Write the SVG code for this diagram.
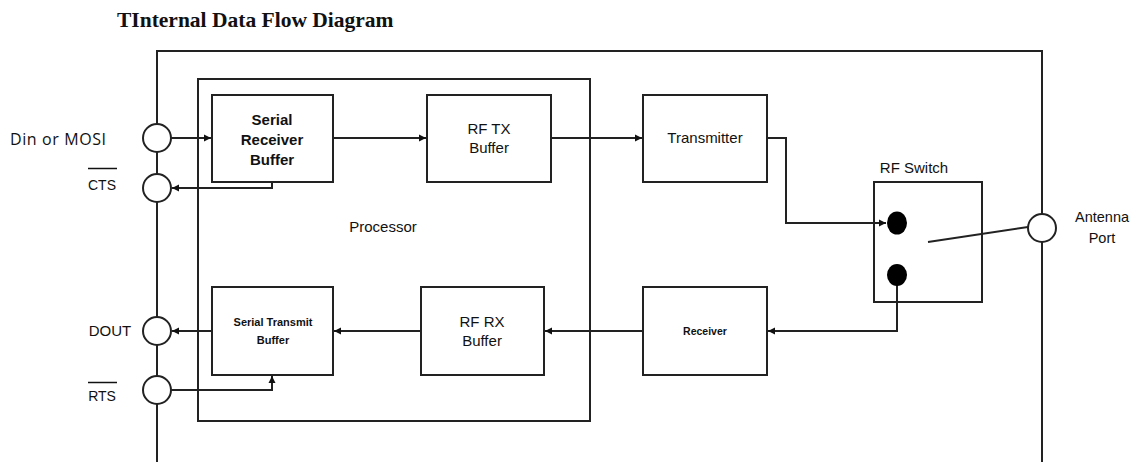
<svg xmlns="http://www.w3.org/2000/svg" width="1139" height="462" viewBox="0 0 1139 462">
<defs>
<style>
.box{fill:#fff;stroke:#222;stroke-width:2}
.ln{fill:none;stroke:#222;stroke-width:2}
.port{fill:#fff;stroke:#222;stroke-width:2}
.t{font-family:"Liberation Sans",Arial,sans-serif;fill:#111;text-anchor:middle}
.b{font-weight:bold}
</style>
<marker id="ah" markerWidth="8" markerHeight="8" refX="7" refY="4" orient="auto" markerUnits="userSpaceOnUse">
<path d="M0,0.5 L7,4 L0,7.5 Z" fill="#111"/>
</marker>
</defs>
<rect width="1139" height="462" fill="#fff"/>
<text x="117" y="27" font-family="Liberation Serif,serif" font-weight="bold" font-size="21.5" fill="#111">TInternal Data Flow Diagram</text>

<g id="frame">
<path class="ln" d="M157,462 V51 H1042 V462"/>
</g>
<g id="processor">
<rect x="198" y="79" width="392" height="342" fill="none" stroke="#222" stroke-width="2"/>
<text class="t" x="383" y="232" font-size="15">Processor</text>
</g>

<g id="serial-receiver-buffer">
<rect class="box" x="212" y="95" width="121" height="87"/>
<text class="t b" x="272" y="125" font-size="15">Serial</text>
<text class="t b" x="272" y="145" font-size="15">Receiver</text>
<text class="t b" x="272" y="165" font-size="15">Buffer</text>
</g>
<g id="rf-tx-buffer">
<rect class="box" x="427" y="95" width="124" height="87"/>
<text class="t" x="489" y="134" font-size="15">RF TX</text>
<text class="t" x="489" y="153" font-size="15">Buffer</text>
</g>
<g id="transmitter">
<rect class="box" x="643" y="95" width="124" height="87"/>
<text class="t" x="705" y="143" font-size="15">Transmitter</text>
</g>
<g id="serial-transmit-buffer">
<rect class="box" x="212" y="287" width="121" height="88"/>
<text class="t b" x="273" y="326" font-size="11">Serial Transmit</text>
<text class="t b" x="273" y="344" font-size="11">Buffer</text>
</g>
<g id="rf-rx-buffer">
<rect class="box" x="421" y="287" width="123" height="88"/>
<text class="t" x="482" y="327" font-size="15">RF RX</text>
<text class="t" x="482" y="346" font-size="15">Buffer</text>
</g>
<g id="receiver">
<rect class="box" x="643" y="287" width="124" height="88"/>
<text class="t b" x="705" y="335" font-size="10.5">Receiver</text>
</g>
<g id="rf-switch">
<rect class="box" x="874" y="182" width="108" height="120"/>
<text class="t" x="914" y="173" font-size="15">RF Switch</text>
</g>

<g id="port-din">
<circle class="port" cx="157" cy="138" r="14"/>
<text x="10" y="145" font-family="Open Sans,Noto Sans,sans-serif" font-size="16" letter-spacing="0.6" fill="#111">Din or MOSI</text>
</g>
<g id="port-cts">
<circle class="port" cx="157" cy="188" r="14"/>
<text class="t" x="102" y="190" font-size="14">CTS</text>
<line x1="88" y1="168.5" x2="117" y2="168.5" stroke="#111" stroke-width="1.5"/>
</g>
<g id="port-dout">
<circle class="port" cx="157" cy="331" r="14"/>
<text class="t" x="110" y="336" font-size="15">DOUT</text>
</g>
<g id="port-rts">
<circle class="port" cx="157" cy="390" r="14"/>
<text class="t" x="102" y="401" font-size="14">RTS</text>
<line x1="88" y1="382.5" x2="117" y2="382.5" stroke="#111" stroke-width="1.5"/>
</g>

<g id="connectors">
<path class="ln" d="M171,138 H211" marker-end="url(#ah)"/>
<path class="ln" d="M333,138 H426" marker-end="url(#ah)"/>
<path class="ln" d="M551,138 H642" marker-end="url(#ah)"/>
<path class="ln" d="M767,138 H786 V223 H886" marker-end="url(#ah)"/>
<path class="ln" d="M272,182 V188 H172" marker-end="url(#ah)"/>
<path class="ln" d="M897,275 V331 H768" marker-end="url(#ah)"/>
<path class="ln" d="M643,331 H545" marker-end="url(#ah)"/>
<path class="ln" d="M421,331 H334" marker-end="url(#ah)"/>
<path class="ln" d="M212,331 H172" marker-end="url(#ah)"/>
<path class="ln" d="M171,390 H272 V376" marker-end="url(#ah)"/>
<path class="ln" d="M928,242 L1028,227"/>
</g>

<g id="switch-contacts">
<ellipse cx="897" cy="223" rx="10" ry="11.5" fill="#000"/>
<ellipse cx="897" cy="275" rx="10" ry="11" fill="#000"/>
</g>
<g id="port-antenna">
<circle class="port" cx="1042" cy="228" r="14"/>
<text class="t" x="1102" y="222" font-size="14.5">Antenna</text>
<text class="t" x="1102" y="243" font-size="14.5">Port</text>
</g>
</svg>
